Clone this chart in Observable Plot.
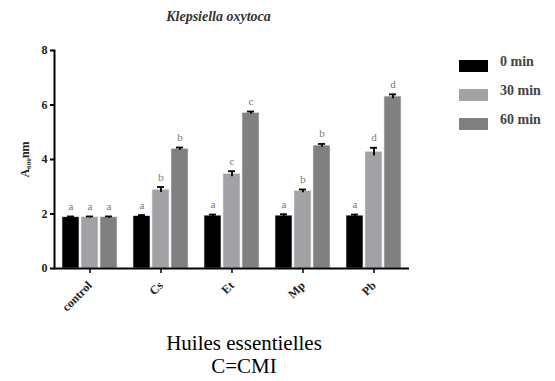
<!DOCTYPE html>
<html><head><meta charset="utf-8">
<script src="https://cdn.jsdelivr.net/npm/d3@7"></script>
<script src="https://cdn.jsdelivr.net/npm/@observablehq/plot@0.6"></script>
<style>
body{margin:0;background:#fff;}
#wrap{position:relative;width:555px;height:381px;font-family:'Liberation Serif','DejaVu Serif',serif;}
#title{position:absolute;left:0;width:437px;top:9px;text-align:center;font-size:14px;font-weight:bold;font-style:italic;color:#333;}
#legend{position:absolute;left:459px;top:57px;}
.li{position:absolute;left:0;white-space:nowrap;font-size:14px;font-weight:bold;color:#444;}
.sw{display:inline-block;width:29px;height:12px;vertical-align:middle;}
.li span.t{position:absolute;left:41px;top:-3px;}
#caption{position:absolute;left:0;width:488px;top:332px;text-align:center;font-size:21px;line-height:23px;color:#000;}
</style></head>
<body><div id="wrap"><div id="chart"></div>
<div id="title">Klepsiella oxytoca</div>
<div id="legend"></div>
<div id="caption">Huiles essentielles<br>C=CMI</div></div>
<script>
const groups = ["control", "Cs", "Et", "Mp", "Pb"];
const series = ["0 min", "30 min", "60 min"];
const colors = ["#000000", "#a2a2a6", "#808080"];
const v0 = [1.88, 1.92, 1.94, 1.94, 1.94];
const v30 = [1.88, 2.89, 3.47, 2.84, 4.28];
const v60 = [1.88, 4.39, 5.71, 4.51, 6.31];
const e0 = [0.03, 0.04, 0.04, 0.05, 0.04];
const e30 = [0.03, 0.10, 0.10, 0.06, 0.15];
const e60 = [0.03, 0.05, 0.05, 0.06, 0.08];
const l0 = ["a", "a", "a", "a", "a"];
const l30 = ["a", "b", "c", "b", "d"];
const l60 = ["a", "b", "c", "b", "d"];
const yTicks = [0, 2, 4, 6, 8];

const vals = [v0, v30, v60], errs = [e0, e30, e60], lets = [l0, l30, l60];
const data = [];
groups.forEach((g, i) => series.forEach((s, j) => data.push({group: g, series: s, value: vals[j][i], err: errs[j][i], letter: lets[j][i]})));

const serif = "'Liberation Serif', 'DejaVu Serif', serif";
const plot = Plot.plot({
  width: 555, height: 381,
  marginLeft: 53, marginRight: 145, marginTop: 50, marginBottom: 113,
  style: {fontFamily: serif, fontSize: "12px", fontWeight: "bold", color: "#222"},
  fx: {domain: groups, padding: 0, paddingOuter: 0, label: null},
  x: {domain: series, axis: null, paddingInner: 0.12, paddingOuter: 0.42},
  y: {domain: [0, 8], label: null},
  color: {domain: series, range: colors},
  marks: [
    Plot.barY(data, {fx: "group", x: "series", y: "value", fill: "series", stroke: "#e6e6e6", strokeWidth: 0.6}),
    Plot.ruleX(data, {fx: "group", x: "series", y1: d => d.value - d.err, y2: d => d.value + d.err, stroke: "#000", strokeWidth: 1.8}),
    Plot.tickY(data, {fx: "group", x: "series", y: d => d.value + d.err, stroke: "#000", strokeWidth: 1.8, insetLeft: 5, insetRight: 5}),
    Plot.text(data, {fx: "group", x: "series", y: d => d.value + d.err, text: "letter", dy: -10, fill: "#777", fontSize: 11, fontWeight: "normal"}),
    Plot.ruleY([0], {stroke: "#000", strokeWidth: 2}),
    Plot.axisFx({anchor: "bottom", tickRotate: -45, tickSize: 5, tickPadding: 10, fontSize: 12, label: null, stroke: "#000", strokeWidth: 1.5}),
    Plot.axisY(yTicks, {anchor: "left", tickSize: 4, tickPadding: 3, fontSize: 12, label: "A₆₀₀nm", labelAnchor: "center", labelArrow: "none", labelOffset: 34, stroke: "#000", strokeWidth: 2}),
    Plot.frame({anchor: "left", facetAnchor: "left", stroke: "#000", strokeWidth: 2})
  ]
});
document.getElementById("chart").appendChild(plot);

const leg = document.getElementById("legend");
series.forEach((s, j) => {
  const d = document.createElement("div");
  d.className = "li";
  d.style.top = (j * 29) + "px";
  d.innerHTML = `<span class="sw" style="background:${colors[j]}"></span><span class="t">${s}</span>`;
  leg.appendChild(d);
});
</script></body></html>
